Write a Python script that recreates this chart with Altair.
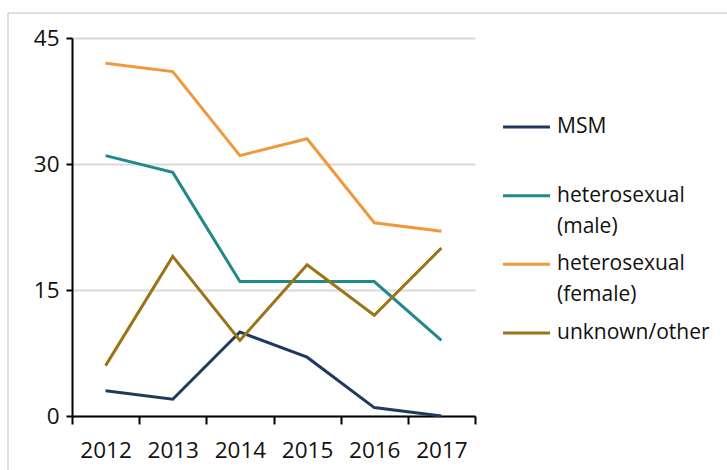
import altair as alt
import pandas as pd

years = ["2012", "2013", "2014", "2015", "2016", "2017"]
msm = [3, 2, 10, 7, 1, 0]
het_male = [31, 29, 16, 16, 16, 9]
het_female = [42, 41, 31, 33, 23, 22]
unknown = [6, 19, 9, 18, 12, 20]

groups = ["MSM", "heterosexual (male)", "heterosexual (female)", "unknown/other"]
legend_text = ["MSM", "heterosexual\n(male)", "heterosexual\n(female)", "unknown/other"]
colors = ["#203a5e", "#208a8a", "#ef983c", "#9c7418"]

rows = []
for g, vals in zip(groups, [msm, het_male, het_female, unknown]):
    for y, v in zip(years, vals):
        rows.append({"year": y, "value": v, "group": g})
df = pd.DataFrame(rows)

legend_df = pd.DataFrame({"group": groups, "label": legend_text, "idx": list(range(len(groups)))})
frame_df = pd.DataFrame({"k": [0]})

FONT = "Open Sans"
INK = "#111111"
color_scale = alt.Scale(domain=groups, range=colors)

lines = alt.Chart(df).mark_line(strokeWidth=3).encode(
    x=alt.X(
        "year:O",
        scale=alt.Scale(type="band", paddingInner=0, paddingOuter=0),
        axis=alt.Axis(
            title=None, labelAngle=0, tickBand="extent", domainColor="#000000",
            domainWidth=2, tickColor="#000000", tickWidth=2, tickSize=8,
            labelFont=FONT, labelFontSize=22.5, labelColor=INK, labelPadding=15,
            grid=False,
        ),
    ),
    y=alt.Y(
        "value:Q",
        scale=alt.Scale(domain=[0, 45], nice=False),
        axis=alt.Axis(
            title=None, values=[0, 15, 30, 45], domainColor="#000000", domainWidth=2,
            tickColor="#000000", tickWidth=2, tickSize=6, labelFont=FONT,
            labelFontSize=22.5, labelColor=INK, labelPadding=7,
            gridColor="#d9d9d9", gridWidth=2,
        ),
    ),
    color=alt.Color("group:N", scale=color_scale, legend=None),
    detail="group:N",
)

leg_y = alt.Y("idx:Q", scale=alt.Scale(domain=[0, 3], range=[89, 295]), axis=None)

legend_lines = alt.Chart(legend_df).mark_rule(strokeWidth=3).encode(
    x=alt.value(431),
    x2=alt.value(478),
    y=leg_y,
    color=alt.Color("group:N", scale=color_scale, legend=None),
)

legend_labels = alt.Chart(legend_df).mark_text(
    align="left", baseline="top", dy=-11, font=FONT, fontSize=21,
    lineBreak="\n", lineHeight=31, color=INK,
).encode(
    x=alt.value(485),
    y=leg_y,
    text="label:N",
)

# thin grey frame along the top and left edges of the chart object
frame_top = alt.Chart(frame_df).mark_rule(color="#d4d4d4", strokeWidth=1.5).encode(
    x=alt.value(-64), x2=alt.value(655), y=alt.value(-25),
)
frame_left = alt.Chart(frame_df).mark_rule(color="#d4d4d4", strokeWidth=1.5).encode(
    x=alt.value(-64), y=alt.value(-25), y2=alt.value(432),
)

chart = (
    alt.layer(frame_top, frame_left, lines, legend_lines, legend_labels)
    .resolve_scale(y="independent")
    .properties(
        width=403, height=378,
        padding={"left": 72, "top": 38, "right": 252, "bottom": 54},
        autosize=alt.AutoSizeParams(type="none"),
        background="white",
    )
    .configure_view(stroke=None)
)

chart.save("out.html", embed_options={"renderer": "svg", "actions": False})
